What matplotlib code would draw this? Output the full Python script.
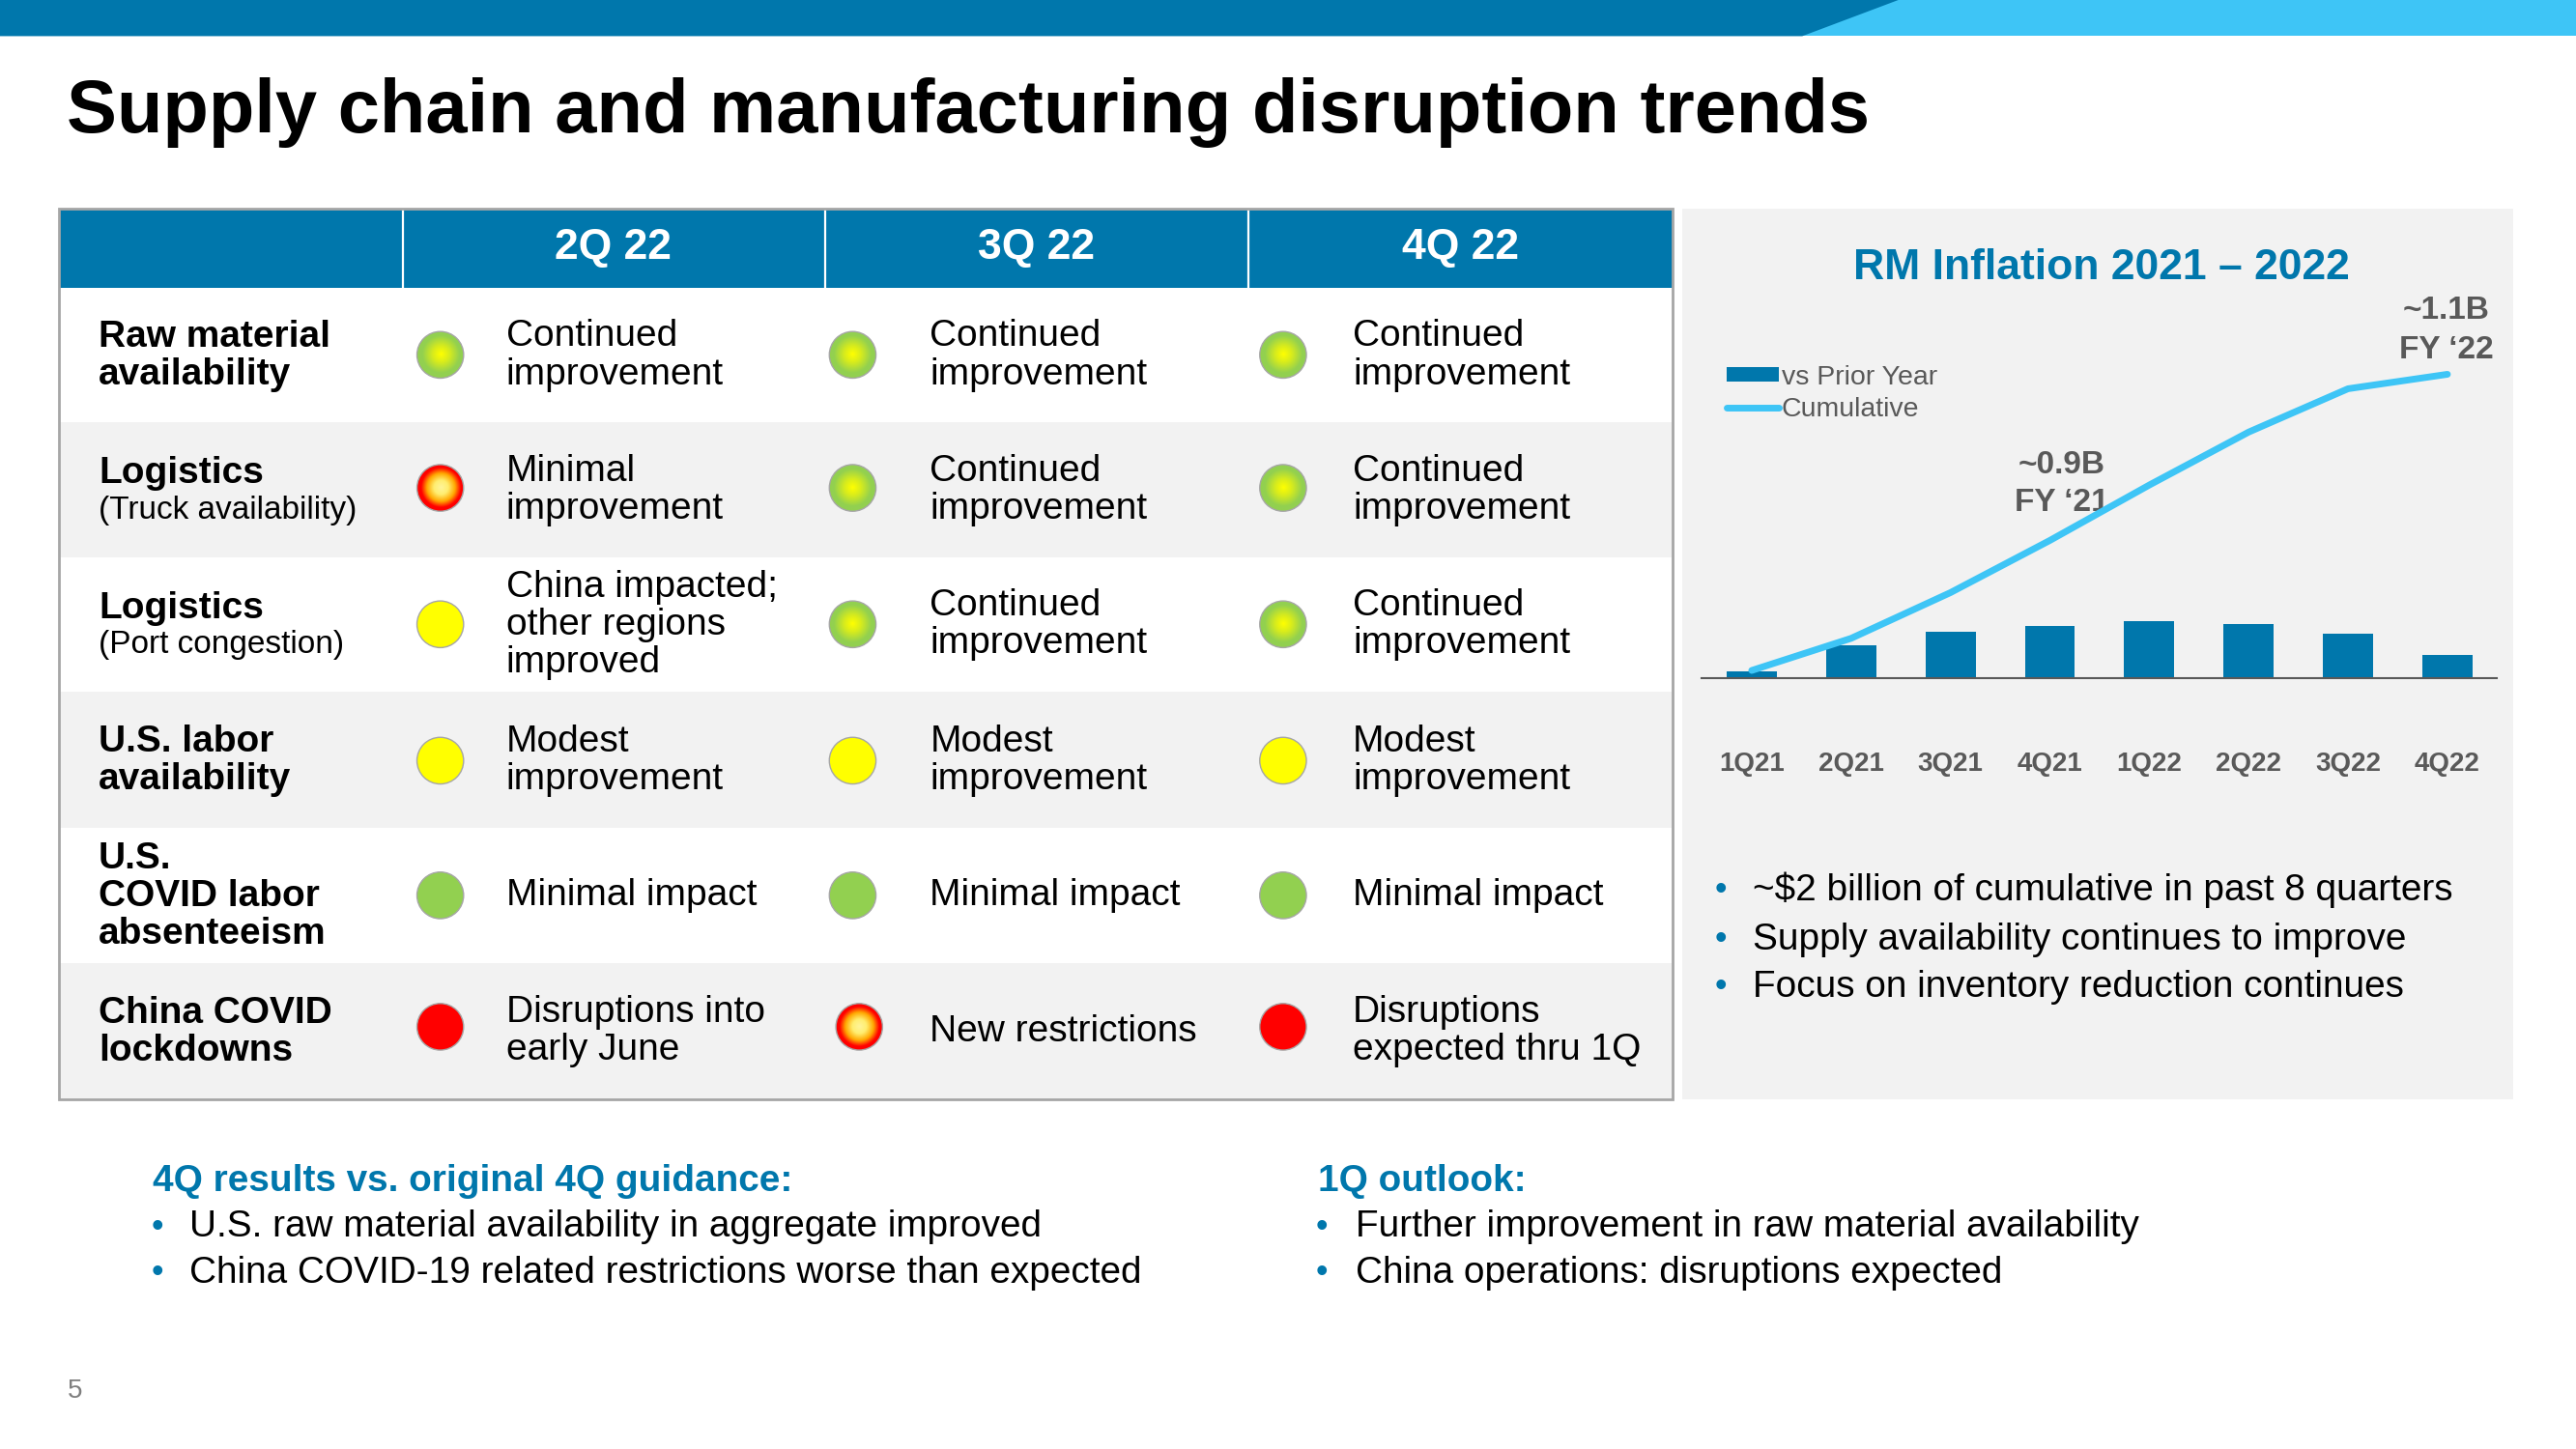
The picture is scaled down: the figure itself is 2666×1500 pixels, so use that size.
import numpy as np
import matplotlib
matplotlib.use("Agg")
import matplotlib.pyplot as plt
from matplotlib.colors import LinearSegmentedColormap
from matplotlib.patches import Circle, Rectangle, Polygon

plt.rcParams['font.family'] = ['Liberation Sans', 'DejaVu Sans']

# ---------- data ----------
quarters = ['1Q21', '2Q21', '3Q21', '4Q21', '1Q22', '2Q22', '3Q22', '4Q22']
vs_prior_year = [40, 200, 285, 325, 350, 335, 275, 140]
cumulative = [45, 245, 530, 855, 1200, 1530, 1800, 1890]
chart_title = 'RM Inflation 2021 \u2013 2022'
columns = ['2Q 22', '3Q 22', '4Q 22']
row_labels = [
    (['Raw material', 'availability'], None),
    (['Logistics'], '(Truck availability)'),
    (['Logistics'], '(Port congestion)'),
    (['U.S. labor', 'availability'], None),
    (['U.S.', 'COVID labor', 'absenteeism'], None),
    (['China COVID', 'lockdowns'], None),
]
cell_text = [
    [['Continued', 'improvement']] * 3,
    [['Minimal', 'improvement'], ['Continued', 'improvement'], ['Continued', 'improvement']],
    [['China impacted;', 'other regions', 'improved'], ['Continued', 'improvement'], ['Continued', 'improvement']],
    [['Modest', 'improvement']] * 3,
    [['Minimal impact']] * 3,
    [['Disruptions into', 'early June'], ['New restrictions'], ['Disruptions', 'expected thru 1Q']],
]
status = [
    ['gi', 'gi', 'gi'],
    ['ri', 'gi', 'gi'],
    ['y', 'gi', 'gi'],
    ['y', 'y', 'y'],
    ['g', 'g', 'g'],
    ['r', 'ri', 'r'],
]
chart_bullets = ['~$2 billion of cumulative in past 8 quarters',
                 'Supply availability continues to improve',
                 'Focus on inventory reduction continues']
left_head = '4Q results vs. original 4Q guidance:'
left_bullets = ['U.S. raw material availability in aggregate improved',
                'China COVID-19 related restrictions worse than expected']
right_head = '1Q outlook:'
right_bullets = ['Further improvement in raw material availability',
                 'China operations: disruptions expected']
ann_fy21 = ['~0.9B', 'FY \u201821']
ann_fy22 = ['~1.1B', 'FY \u201822']

# ---------- style ----------
BLUE = '#0077AC'
LIGHT = '#3EC5F6'
GREY = '#F2F2F2'
TXT = '#595959'
SOLID = {'y': '#FFFF00', 'g': '#92D050', 'r': '#FF0000'}
CM_GI = LinearSegmentedColormap.from_list('gi', [(0, '#FFFF00'), (0.35, '#D8EC1C'), (0.8, '#92D050'), (1, '#92D050')])
CM_RI = LinearSegmentedColormap.from_list('ri', [(0, '#FFF49A'), (0.3, '#FFEE70'), (0.6, '#FFA800'), (0.85, '#FF0000'), (1, '#FF0000')])

W, H = 1568, 882
fig = plt.figure(figsize=(26.66, 15), dpi=100, facecolor='white')
bg = fig.add_axes([0, 0, 1, 1])
bg.set_xlim(0, W); bg.set_ylim(H, 0); bg.axis('off')

# top band
bg.add_patch(Rectangle((0, 0), W, 22, color=LIGHT, lw=0))
bg.add_patch(Polygon([(0, 0), (1155.5, 0), (1097, 22), (0, 22)], closed=True, color=BLUE, lw=0))
bg.text(40.5, 68.5, 'Supply chain and manufacturing disruption trends', fontsize=56, fontweight='bold',
        color='black', va='center', ha='left')

# table
T_L, T_R = 36, 1018
row_edges = [175, 257, 339, 421, 504, 586, 669]
col_edges = [245, 502, 760]
col_centers = [373, 631, 889]
text_x = [308, 566, 823.5]
dot_x = [268, 519, 781]
dot_y = [216, 297, 380, 463, 545, 625]
R = 14.2

bg.add_patch(Rectangle((T_L, 127), T_R - T_L, 48, color=BLUE, lw=0))
for i in range(6):
    if i % 2 == 1:
        bg.add_patch(Rectangle((T_L, row_edges[i]), T_R - T_L, row_edges[i + 1] - row_edges[i], color=GREY, lw=0))
for x in col_edges:
    bg.plot([x, x], [127, 175], color='white', lw=1.6, zorder=3)
bg.add_patch(Rectangle((T_L, 127), T_R - T_L, 542, fill=False, ec='#A6A6A6', lw=2, zorder=4))
for c, name in zip(col_centers, columns):
    bg.text(c, 151, name, color='white', fontsize=32, fontweight='bold', ha='center', va='center')

LH = 23.0
def lines(x, cy, items, lh=LH, **kw):
    n = len(items)
    for k, s in enumerate(items):
        bg.text(x, cy + (k - (n - 1) / 2) * lh, s, ha='left', va='center_baseline', **kw)

grid = np.linspace(-1, 1, 121)
rr = np.sqrt(grid[None, :] ** 2 + grid[:, None] ** 2)
for i in range(6):
    labs, sub = row_labels[i]
    cy = (row_edges[i] + row_edges[i + 1]) / 2 - 1
    if sub:
        bg.text(60, cy - 11, labs[0], fontsize=28, fontweight='bold', va='center_baseline')
        bg.text(60, cy + 11.5, sub, fontsize=24, va='center_baseline')
    else:
        lines(60, cy - 0.7, labs, fontsize=28, fontweight='bold')
    for j in range(3):
        lines(text_x[j], cy - 1, cell_text[i][j], fontsize=28, color='black')
        x = dot_x[j] + (4 if (i == 5 and j == 1) else 0)
        y = dot_y[i]
        st = status[i][j]
        if st in SOLID:
            bg.add_patch(Circle((x, y), R, fc=SOLID[st], ec='#A6A6A6', lw=1, zorder=5))
        else:
            cmap = CM_GI if st == 'gi' else CM_RI
            im = bg.imshow(rr, cmap=cmap, vmin=0, vmax=1, extent=(x - R, x + R, y + R, y - R),
                           aspect='auto', zorder=5, interpolation='bilinear')
            im.set_clip_path(Circle((x, y), R, transform=bg.transData))
            bg.add_patch(Circle((x, y), R, fill=False, ec='#A6A6A6', lw=1, zorder=6))
bg.set_xlim(0, W); bg.set_ylim(H, 0)

# side panel
bg.add_patch(Rectangle((1024, 127), 506, 542, color=GREY, lw=0))
bg.text(1279, 163, chart_title, color=BLUE, fontsize=32, fontweight='bold', ha='center', va='center')

# chart
px_l, px_r = 1036, 1520
base, top = 412.5, 178.0
ax = fig.add_axes([px_l / W, 1 - base / H, (px_r - px_l) / W, (base - top) / H])
ax.patch.set_alpha(0)
xs = np.arange(len(quarters))
bars = ax.bar(xs, vs_prior_year, width=0.505, color=BLUE, label='vs Prior Year', zorder=2)
line, = ax.plot(xs, cumulative, color=LIGHT, lw=5, solid_capstyle='round', solid_joinstyle='round',
                label='Cumulative', zorder=3)
ax.set_xlim(-0.5, 7.5)
ax.set_ylim(0, 2400)
ax.set_yticks([])
ax.set_xticks(xs, quarters)
ax.tick_params(axis='x', length=0, pad=55, labelsize=20, labelcolor=TXT)
for t in ax.get_xticklabels():
    t.set_fontweight('bold')
for s in ['top', 'left', 'right']:
    ax.spines[s].set_visible(False)
ax.spines['bottom'].set_color(TXT); ax.spines['bottom'].set_linewidth(1.5)
leg = ax.legend(handles=[bars, line], loc='upper left', bbox_to_anchor=(1051 / W, 1 - 222 / H),
                bbox_transform=fig.transFigure, frameon=False, fontsize=20.5, labelcolor=TXT,
                handlelength=1.9, handleheight=0.45, handletextpad=0.1, labelspacing=0.25,
                borderpad=0, borderaxespad=0)
for (cx, ys, labs) in [(1255, (283, 306), ann_fy21), (1489, (189, 213), ann_fy22)]:
    for y, s in zip(ys, labs):
        bg.text(cx, y, s, color=TXT, fontsize=24, fontweight='bold', ha='center', va='center', zorder=10)

# bullets
def bullets(x_b, x_t, ys, items):
    for y, s in zip(ys, items):
        bg.text(x_b, y, '\u2022', color=BLUE, fontsize=26, ha='left', va='center_baseline')
        bg.text(x_t, y, s, color='black', fontsize=27.9, ha='left', va='center_baseline')

bullets(1044, 1067, [539.5, 569.5, 598.5], chart_bullets)
bg.text(93, 717, left_head, color=BLUE, fontsize=27.9, fontweight='bold', va='center_baseline')
bullets(92, 115, [744.5, 772.5], left_bullets)
bg.text(802, 717, right_head, color=BLUE, fontsize=27.9, fontweight='bold', va='center_baseline')
bullets(801, 825, [744.5, 772.5], right_bullets)
bg.text(41, 845, '5', color='#7F7F7F', fontsize=20, va='center_baseline')

fig.savefig('out.png', dpi=100)
